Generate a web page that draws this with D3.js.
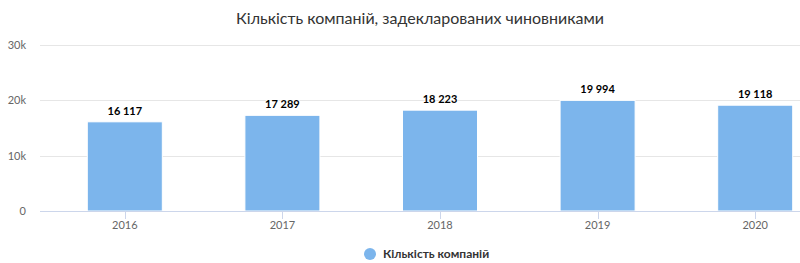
<!DOCTYPE html>
<html>
<head>
<meta charset="utf-8">
<script src="https://cdn.jsdelivr.net/npm/d3@7"></script>
<style>
  body { margin: 0; background: #fff; }
  svg { display: block; font-family: Lato, "Segoe UI", sans-serif; }
</style>
</head>
<body>
<div id="chart"></div>
<script>
const years = ['2016', '2017', '2018', '2019', '2020'];
const companies = [16117, 17289, 18223, 19994, 19118];
const yTicks = [0, 10000, 20000, 30000];
const seriesName = 'Кількість компаній';
const titleText = 'Кількість компаній, задекларованих чиновниками';

const W = 800, H = 263;
// the original chart is a bit wider than the window, so the plot runs past the right edge
const plot = { left: 40, right: 834, top: 45, bottom: 211 };
const barColor = '#7cb5ec';

const svg = d3.select('#chart').append('svg')
    .attr('width', W)
    .attr('height', H);

const x = d3.scaleBand()
    .domain(years)
    .range([plot.left + 6, plot.right])
    .paddingInner(0.524)
    .paddingOuter(0.262);

const y = d3.scaleLinear()
    .domain([0, 30000])
    .range([plot.bottom, plot.top]);

// title
svg.append('text')
    .attr('x', 420)
    .attr('y', 24)
    .attr('text-anchor', 'middle')
    .attr('fill', '#333')
    .style('font-size', '16px')
    .text(titleText);

// gridlines
svg.append('g')
    .selectAll('line')
    .data(yTicks.filter(d => d > 0))
    .join('line')
    .attr('x1', plot.left)
    .attr('x2', plot.right)
    .attr('y1', d => Math.round(y(d)) + 0.5)
    .attr('y2', d => Math.round(y(d)) + 0.5)
    .attr('stroke', '#e6e6e6');

// y labels
svg.append('g')
    .selectAll('text')
    .data(yTicks)
    .join('text')
    .attr('x', 26)
    .attr('y', d => y(d) + 4)
    .attr('text-anchor', 'end')
    .attr('fill', '#666')
    .style('font-size', '11px')
    .text(d => d === 0 ? '0' : (d / 1000) + 'k');

// bars
svg.append('g')
    .selectAll('rect')
    .data(companies)
    .join('rect')
    .attr('x', (d, i) => x(years[i]))
    .attr('y', d => y(d))
    .attr('width', x.bandwidth())
    .attr('height', d => plot.bottom - y(d))
    .attr('fill', barColor)
    .attr('stroke', '#fff')
    .attr('stroke-width', 1);

// value labels
const fmt = d3.formatLocale({ thousands: ' ', grouping: [3], decimal: ',', currency: ['', ''] }).format(',d');
svg.append('g')
    .selectAll('text')
    .data(companies)
    .join('text')
    .attr('x', (d, i) => x(years[i]) + x.bandwidth() / 2)
    .attr('y', d => y(d) - 7)
    .attr('text-anchor', 'middle')
    .attr('fill', '#000')
    .style('font-size', '11px')
    .style('font-weight', 'bold')
    .style('paint-order', 'stroke')
    .attr('stroke', '#fff')
    .attr('stroke-width', 2)
    .text(d => fmt(d));

// x axis line and ticks
svg.append('line')
    .attr('x1', plot.left)
    .attr('x2', plot.right)
    .attr('y1', plot.bottom + 0.5)
    .attr('y2', plot.bottom + 0.5)
    .attr('stroke', '#ccd6eb');

const xAxis = svg.append('g');
xAxis.selectAll('line')
    .data(years)
    .join('line')
    .attr('x1', d => Math.round(x(d) + x.bandwidth() / 2) + 0.5)
    .attr('x2', d => Math.round(x(d) + x.bandwidth() / 2) + 0.5)
    .attr('y1', plot.bottom)
    .attr('y2', plot.bottom + 8)
    .attr('stroke', '#ccd6eb');

xAxis.selectAll('text')
    .data(years)
    .join('text')
    .attr('x', d => x(d) + x.bandwidth() / 2)
    .attr('y', plot.bottom + 18)
    .attr('text-anchor', 'middle')
    .attr('fill', '#666')
    .style('font-size', '11px')
    .text(d => d);

// legend
const legend = svg.append('g').attr('transform', 'translate(370, 254)');
legend.append('circle')
    .attr('r', 6)
    .attr('fill', barColor);
legend.append('text')
    .attr('x', 13)
    .attr('y', 4)
    .attr('fill', '#333')
    .style('font-size', '12px')
    .style('font-weight', 'bold')
    .text(seriesName);
</script>
</body>
</html>
